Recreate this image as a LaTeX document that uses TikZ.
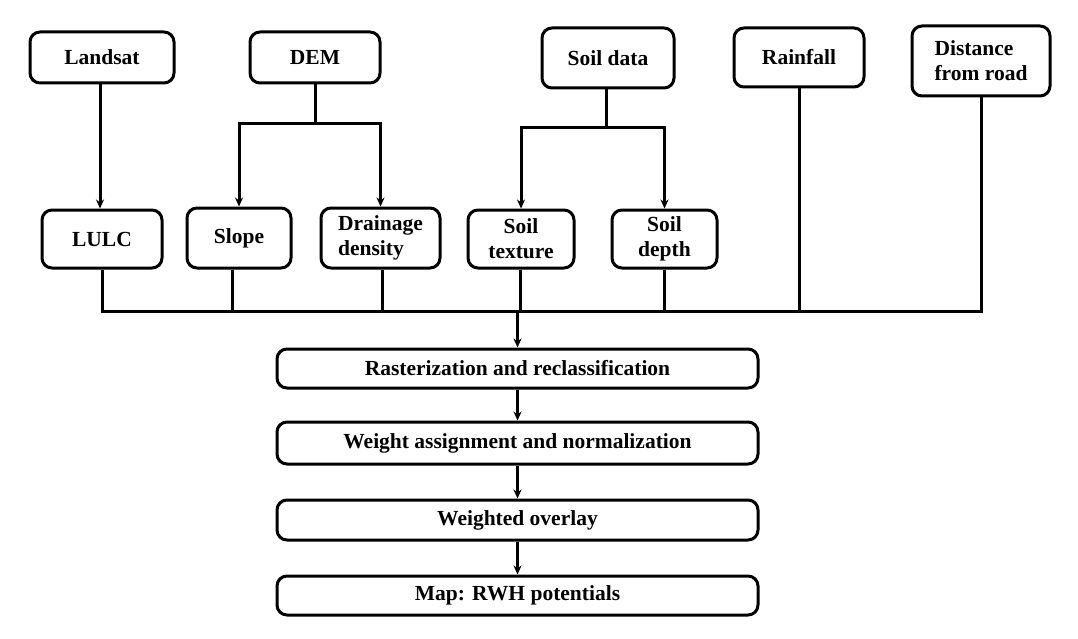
\documentclass[tikz,border=0pt]{standalone}
\usepackage{fontspec}
\setmainfont{Liberation Serif}
\usetikzlibrary{arrows.meta}

\tikzset{
  blk/.style={draw, line width=3pt, rounded corners=10pt, inner sep=0pt,
    font=\bfseries\fontsize{21.5}{25}\selectfont},
  sz/.style 2 args={minimum width=#1pt, minimum height=#2pt},
  ln/.style={line width=3pt},
  arr/.style={ln, -{Stealth[length=9pt,width=8pt]}}
}

\begin{document}
\begin{tikzpicture}[x=1pt, y=-1pt]
    \useasboundingbox (0,0) rectangle (1078,639);

    % data sources
    \node[blk, sz={144}{51}] (landsat) at (102,57.5) {Landsat};
    \node[blk, sz={130}{51}] (dem) at (315,57.5) {DEM};
    \node[blk, sz={132}{60}] (soil) at (608,58) {Soil data};
    \node[blk, sz={130}{59}] (rain) at (799,57.5) {Rainfall};
    \node[blk, sz={138}{70}, align=left] (dist) at (981,61) {Distance\\from road};

    % thematic layers
    \node[blk, sz={120}{58}] (lulc) at (102,239) {LULC};
    \node[blk, sz={104}{60}] (slope) at (239,238) {Slope};
    \node[blk, sz={119}{60}, align=left] (drain) at (380.5,238) {Drainage\\density};
    \node[blk, sz={106}{58}, align=center] (tex) at (521,239) {Soil\\texture};
    \node[blk, sz={105}{58}, align=center] (dep) at (664.5,239) {Soil\\depth};

    % processing steps
    \node[blk, sz={481}{39}] (ras) at (517.5,368.5) {Rasterization and reclassification};
    \node[blk, sz={481}{42}] (wgt) at (517.5,443) {Weight assignment and normalization};
    \node[blk, sz={481}{40}] (ovl) at (517.5,520) {Weighted overlay};
    \node[blk, sz={481}{39}] (rwh) at (517.5,595.5) {Map: RWH potentials};

    \coordinate (demj) at (315,124);
    \coordinate (soilj) at (606,128);
    \coordinate (bus) at (0,311);

    \draw[arr] (landsat.south -| 100,0) -- (lulc.north -| 100,0);

    \draw[ln] (dem.south) -- (demj);
    \draw[arr] (demj) -| (slope.north);
    \draw[arr] (demj) -| (drain.north);

    \draw[ln] (soil.south -| soilj) -- (soilj);
    \draw[arr] (soilj) -| (tex.north);
    \draw[arr] (soilj) -| (dep.north);

    % bus line
    \draw[ln] (lulc.south) -- (lulc.south |- bus) -- (dist.south |- bus) -- (dist.south);
    \foreach \n/\dx in {slope/-7, drain/2, tex/-1, dep/0, rain/0} {
        \draw[ln] ([xshift=\dx pt]\n.south) -- ([xshift=\dx pt]\n.south |- bus);
      }

    \draw[arr] (ras.north |- bus) -- (ras.north);
    \draw[arr] (ras) -- (wgt);
    \draw[arr] (wgt) -- (ovl);
    \draw[arr] (ovl) -- (rwh);
  \end{tikzpicture}
\end{document}
